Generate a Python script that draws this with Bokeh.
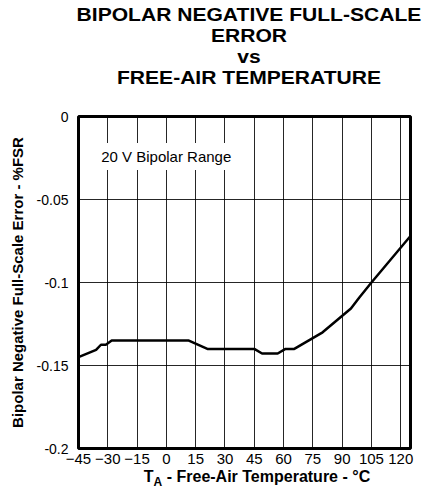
from bokeh.plotting import figure
from bokeh.models import Range1d, FixedTicker, Label, Div
from bokeh.layouts import column
from bokeh.embed import file_html
from bokeh.resources import INLINE

# ---- data ----
temp_c = [-45, -36, -33.5, -31, -28, 11.5, 21, 45, 49, 57, 61, 65.5, 80, 94.5, 98.8, 105, 125]
fs_error = [-0.145, -0.1406, -0.1375, -0.1375, -0.135, -0.135, -0.140, -0.140, -0.1428, -0.1428,
            -0.140, -0.140, -0.130, -0.1157, -0.109, -0.100, -0.072]

x_ticks = [-45, -30, -15, 0, 15, 30, 45, 60, 75, 90, 105, 120]
y_ticks = [-0.2, -0.15, -0.1, -0.05, 0]
y_tick_labels = ["-0.2", "-0.15", "-0.1", "-0.05", "0"]

title_lines = ["BIPOLAR NEGATIVE FULL-SCALE", "ERROR", "vs", "FREE-AIR TEMPERATURE"]
y_label = "Bipolar Negative Full-Scale Error - %FSR"
x_label_main, x_label_sub, x_label_rest = "T", "A", " - Free-Air Temperature - °C"
note = "20 V Bipolar Range"

X_MIN, X_MAX = -45, 125
Y_MIN, Y_MAX = -0.2, 0

FONT = "Liberation Sans"
W = 420

p = figure(width=W, height=368, output_backend="svg", toolbar_location=None,
           x_range=Range1d(X_MIN, X_MAX), y_range=Range1d(Y_MIN, Y_MAX),
           min_border_left=78, min_border_right=10, min_border_top=10, min_border_bottom=26)

p.outline_line_color = "black"
p.outline_line_width = 3

p.xaxis.ticker = FixedTicker(ticks=x_ticks)
p.yaxis.ticker = FixedTicker(ticks=y_ticks)
p.yaxis.major_label_overrides = {v: s for v, s in zip(y_ticks, y_tick_labels)}

for ax in (p.xaxis[0], p.yaxis[0]):
    ax.axis_line_color = None
    ax.major_tick_line_color = None
    ax.minor_tick_line_color = None
    ax.major_tick_out = 0
    ax.major_tick_in = 0
    ax.major_label_text_font = FONT
    ax.major_label_text_color = "black"

p.xaxis.major_label_text_font_size = "15px"
p.xaxis.major_label_standoff = 5
p.yaxis.major_label_text_font_size = "14px"
p.yaxis.major_label_standoff = 10

p.yaxis.axis_label = y_label
p.yaxis.axis_label_text_font = FONT
p.yaxis.axis_label_text_font_style = "bold"
p.yaxis.axis_label_text_font_size = "15px"
p.yaxis.axis_label_text_color = "black"
p.yaxis.axis_label_standoff = 8

p.xgrid.ticker = FixedTicker(ticks=x_ticks)
p.ygrid.ticker = FixedTicker(ticks=y_ticks)
p.grid.grid_line_color = "black"
p.grid.grid_line_width = 1
p.grid.grid_line_alpha = 0.85

p.line(temp_c, fs_error, line_color="black", line_width=2.5)

# annotation box
p.add_layout(Label(x=-38.5, y=-0.0241, text=note, text_font=FONT, text_font_size="15px",
                   text_baseline="middle", text_color="black",
                   background_fill_color="white",
                   padding=dict(left=10, right=8, top=5, bottom=5)))

# title above the plot, centred over the frame (frame centre = figure x 244)
title_html = (
    f'<div style="width:488px;margin:0;transform:scaleX(1.17);transform-origin:244px 0;'
    f'text-align:center;font-family:\'{FONT}\',Arial,sans-serif;font-weight:bold;'
    f'font-size:18px;line-height:21px;color:black;white-space:nowrap">'
    + "<br>".join(title_lines) + '</div>'
)
title_div = Div(text=title_html, width=W, height=96,
                styles={"overflow": "visible"})

xlabel_html = (
    f'<div style="width:504px;margin:0;'
    f'text-align:center;font-family:\'{FONT}\',Arial,sans-serif;font-weight:bold;'
    f'font-size:16px;line-height:16px;color:black;white-space:nowrap">'
    f'{x_label_main}<span style="font-size:12px;position:relative;top:4px">{x_label_sub}</span>'
    f'{x_label_rest}</div>'
)
xlabel_div = Div(text=xlabel_html, width=W, height=14,
                 styles={"transform": "translateY(-10px)", "overflow": "visible"})

layout = column(title_div, p, xlabel_div, spacing=0)

open("out.html", "w").write(file_html(layout, INLINE))
